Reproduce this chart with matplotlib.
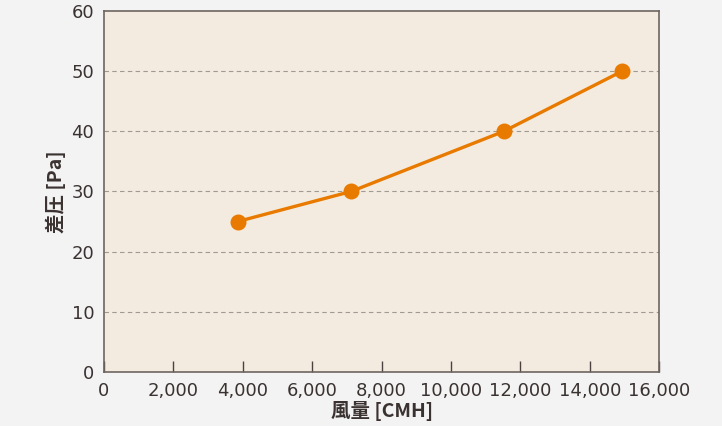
import numpy as np
import matplotlib.pyplot as plt
from matplotlib.ticker import FuncFormatter

plt.rcParams['font.family'] = ['DejaVu Sans', 'Noto Sans CJK JP']

# 風量 [CMH] と 差圧 [Pa]
airflow = [3850, 7120, 11520, 14930]
pressure = [25, 30, 40, 50]

x_ticks = [0, 2000, 4000, 6000, 8000, 10000, 12000, 14000, 16000]
y_ticks = [0, 10, 20, 30, 40, 50, 60]

txt = '#3a3230'

fig = plt.figure(figsize=(7.22, 4.26), dpi=100, facecolor='#f3f3f3')
ax = fig.add_axes([0.144, 0.127, 0.769, 0.847])
ax.set_facecolor('#f4ebe0')

ax.plot(airflow, pressure, color='#e87a00', lw=2.4, marker='o', ms=10.5,
        markerfacecolor='#e87a00', markeredgecolor='#e87a00', zorder=3)

ax.set_xlim(0, 16000)
ax.set_ylim(0, 60)
ax.set_xticks(x_ticks)
ax.set_yticks(y_ticks)
ax.xaxis.set_major_formatter(FuncFormatter(lambda v, p: '{:,}'.format(int(v))))

for y in y_ticks[1:-1]:
    ax.axhline(y, color='#a09a94', lw=0.8, ls=(0, (4, 3)), zorder=1)

for s in ax.spines.values():
    s.set_color('#6e6560')
    s.set_linewidth(1.2)

ax.tick_params(axis='x', direction='in', length=8, width=1, color='#4a4240',
               labelsize=13, labelcolor=txt, pad=7)
ax.tick_params(axis='y', length=0, labelsize=13, labelcolor=txt, pad=7)

ax.set_xlabel('風量 [CMH]', fontsize=14, color=txt, labelpad=1, fontweight='bold',
              family=['Noto Sans CJK JP', 'DejaVu Sans'])
ax.set_ylabel('差圧 [Pa]', fontsize=14, color=txt, labelpad=4, fontweight='bold',
              family=['Noto Sans CJK JP', 'DejaVu Sans'])

fig.savefig('out.png', dpi=100, facecolor=fig.get_facecolor())
